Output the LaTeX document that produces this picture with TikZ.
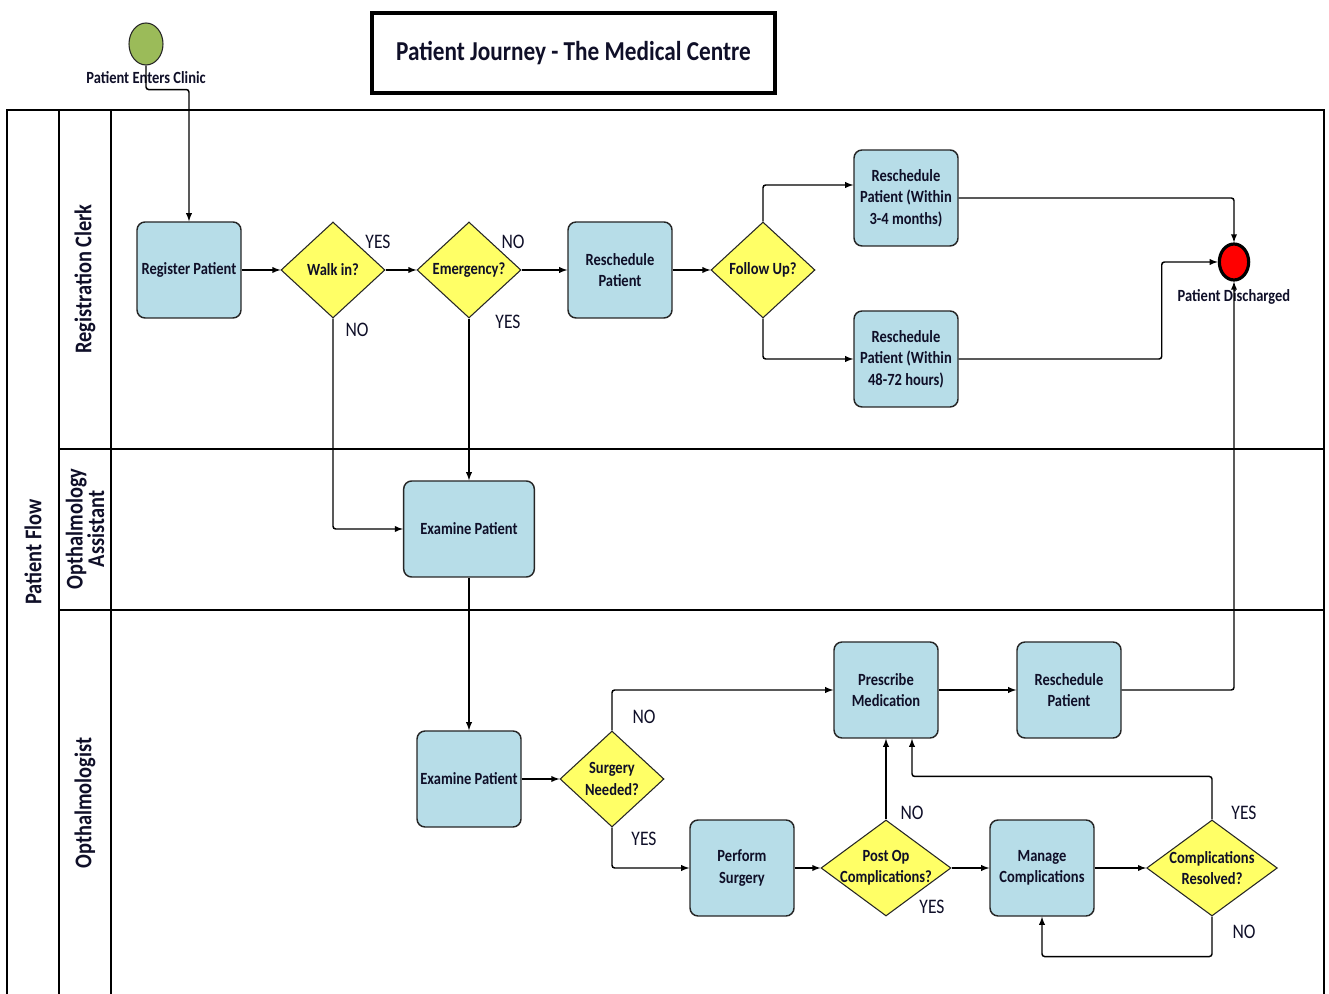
\documentclass[tikz,border=0pt]{standalone}
\usepackage{fontspec}
\setmainfont{Carlito}
\newfontfamily\narrowfont{Carlito}[FakeStretch=0.85]
\usepackage{tikz}
\usetikzlibrary{arrows,shapes,positioning}

\definecolor{boxblue}{RGB}{183,221,232}
\definecolor{diayellow}{RGB}{255,255,102}
\definecolor{startgreen}{RGB}{155,187,89}
\definecolor{inkblue}{RGB}{15,15,40}

\begin{document}
\begin{tikzpicture}[x=0.75pt,y=-0.75pt,>=latex]

\tikzstyle{task}=[draw=black!85,line width=1.1pt,fill=boxblue,rounded corners=6pt,minimum width=78pt,minimum height=72pt,inner sep=1pt,align=center,text=inkblue,font=\narrowfont\bfseries\fontsize{12.8}{16}\selectfont]
\tikzstyle{decision}=[diamond,draw=black!85,line width=0.8pt,fill=diayellow,minimum width=78pt,minimum height=72pt,inner sep=0pt]
\tikzstyle{dtext}=[align=center,text=inkblue,font=\narrowfont\bfseries\fontsize{12.8}{16}\selectfont]
\tikzstyle{answer}=[text=inkblue,font=\narrowfont\fontsize{15.5}{18}\selectfont]
\tikzstyle{lanelabel}=[rotate=90,align=center,text=inkblue,font=\narrowfont\bfseries\fontsize{18}{16}\selectfont]
\tikzstyle{flow}=[->,line width=1.1pt,rounded corners=2pt]
\tikzstyle{lane}=[line width=1pt]

\useasboundingbox (0,0) rectangle (1329,994);

\draw[lane] (7,994) -- (7,110) -- (1324,110) -- (1324,994);
\draw[lane] (59,110) -- (59,994);
\draw[lane] (111,110) -- (111,994);
\draw[lane] (59,449) -- (1324,449);
\draw[lane] (59,610) -- (1324,610);

\node[lanelabel] (pf) at (33,552) {Patient Flow};
\node[lanelabel] (rc) at (85,279) {Registration Clerk};
\node[lanelabel] (oa) at (85,529) {Opthalmology\\Assistant};
\node[lanelabel] (op) at (85,803) {Opthalmologist};

\node[draw,line width=3pt,minimum width=302pt,minimum height=60pt,text=inkblue,font=\narrowfont\bfseries\fontsize{20.5}{22}\selectfont] (title) at (573.5,53) {Patient Journey - The Medical Centre};

\node[ellipse,draw=black!85,line width=0.8pt,fill=startgreen,minimum width=25.5pt,minimum height=31.5pt] (st) at (146,44) {};
\node[dtext,font=\narrowfont\bfseries\fontsize{12.8}{14}\selectfont] (stl) at (146,78) {Patient Enters Clinic};
\node[ellipse,draw=black,line width=2.4pt,fill=red,minimum width=22pt,minimum height=27pt] (dis) at (1234,262) {};
\node[dtext,font=\narrowfont\bfseries\fontsize{12.8}{14}\selectfont] (disl) at (1234,297) {Patient Discharged};

\node[task] (reg) at (189,270) {Register Patient};
\node[decision] (walk) at (333,270) {};
\node[dtext] (walkT) at (walk) {Walk in?};
\node[decision] (emer) at (469,270) {};
\node[dtext] (emerT) at (emer) {Emergency?};
\node[task] (resA) at (620,270) {Reschedule\\Patient};
\node[decision] (fol) at (763,270) {};
\node[dtext] (folT) at (fol) {Follow Up?};
\node[task] (m34) at (906,198) {Reschedule\\Patient (Within\\3-4 months)};
\node[task] (h48) at (906,359) {Reschedule\\Patient (Within\\48-72 hours)};

\node[task,minimum width=98pt] (exA) at (469,529) {Examine Patient};

\node[task] (exO) at (469,779) {Examine Patient};
\node[decision] (surg) at (612,779) {};
\node[dtext] (surgT) at (surg) {Surgery\\Needed?};
\node[task] (presc) at (886,690) {Prescribe\\Medication};
\node[task] (resB) at (1069,690) {Reschedule\\Patient};
\node[task] (perf) at (742,868) {Perform\\Surgery};
\node[decision,minimum width=97.5pt] (post) at (886,868) {};
\node[dtext] (postT) at (post) {Post Op\\Complications?};
\node[task] (mng) at (1042,868) {Manage\\Complications};
\node[decision,minimum width=98pt] (cres) at (1212,868) {};
\node[dtext] (cresT) at (cres) {Complications\\Resolved?};

\node[answer] (a1) at (378,242) {YES};
\node[answer] (a2) at (357,330) {NO};
\node[answer] (a3) at (513,242) {NO};
\node[answer] (a4) at (508,322) {YES};
\node[answer] (a5) at (644,717) {NO};
\node[answer] (a6) at (644,839) {YES};
\node[answer] (a7) at (912,813) {NO};
\node[answer] (a8) at (932,907) {YES};
\node[answer] (a9) at (1244,813) {YES};
\node[answer] (a10) at (1244,932) {NO};

\draw[flow] (st.south) -- ++(0,24) -| (reg.north);
\draw[flow] (reg) -- (walk);
\draw[flow] (walk) -- (emer);
\draw[flow] (walk.south) |- (exA.west);
\draw[flow] (emer) -- (resA);
\draw[flow] (emer.south) -- (exA.north);
\draw[flow] (resA) -- (fol);
\draw[flow] (fol.north) |- ([yshift=9.75pt]m34.west);
\draw[flow] (fol.south) |- (h48.west);
\draw[flow] (m34.east) -| (dis.north);
\draw[flow] (h48.east) -- ++(203,0) |- (dis.west);
\draw[flow] (exA) -- (exO);
\draw[flow] (exO) -- (surg);
\draw[flow] (surg.north) |- (presc.west);
\draw[flow] (surg.south) |- (perf.west);
\draw[flow] (perf) -- (post);
\draw[flow] (post) -- (presc);
\draw[flow] (post) -- (mng);
\draw[flow] (mng) -- (cres);
\draw[flow] (cres.north) -- ++(0,-43) -| ([xshift=19.5pt]presc.south);
\draw[flow] (cres.south) -- ++(0,40) -| (mng.south);
\draw[flow] (presc) -- (resB);
\draw[flow] (resB.east) -| (dis.south);

\end{tikzpicture}
\end{document}
